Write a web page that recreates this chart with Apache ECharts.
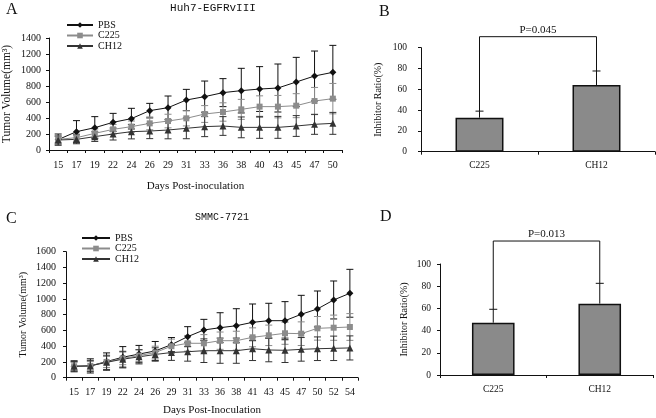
<!DOCTYPE html>
<html>
<head>
<meta charset="utf-8">
<script src="https://cdn.jsdelivr.net/npm/echarts@6/dist/echarts.min.js"></script>
<style>html,body{margin:0;padding:0;background:#fff}#c{width:656px;height:418px}</style>
</head>
<body>
<div id="c"></div>
<script>
// ---------- Data ----------
const catsA = ['15','17','19','22','24','26','29','31','33','36','38','40','43','45','47','50'];
const pbsA = [130,229,279,346,392,492,529,625,667,717,742,762,775,850,925,971];
const pbsAErr = [70,138,138,112,129,91,146,133,195,175,279,280,300,308,312,337];
const c225A = [133,154,208,258,292,333,362,396,450,475,508,542,542,554,612,642];
const c225AErr = [40,45,55,60,70,80,85,95,105,115,125,135,140,150,170,190];
const ch12A = [125,133,167,200,229,237,250,271,292,300,283,283,283,300,321,333];
const ch12AErr = [50,55,60,75,90,95,110,130,125,117,130,137,137,130,125,137];

const catsC = ['15','17','19','22','24','26','29','31','33','36','38','41','43','45','47','50','52','54'];
const pbsC = [145,150,205,260,300,340,420,521,606,635,660,703,724,724,805,873,987,1072];
const pbsCErr = [70,90,110,135,110,120,90,127,135,190,216,233,221,242,241,228,241,304];
const c225C = [145,150,200,245,280,320,400,437,437,470,470,513,538,564,559,627,635,644];
const c225CErr = [50,55,70,80,75,80,90,100,110,110,120,120,130,140,150,150,160,170];
const ch12C = [145,150,195,235,265,295,320,330,343,343,343,368,352,348,360,368,373,378];
const ch12CErr = [60,70,90,100,90,85,100,120,150,160,160,150,150,155,150,150,155,153];

const barCats = ['C225','CH12'];
const ratioB = [32.7, 64.1];
const ratioBErr = [6.3, 13.5];
const pLabelB = 'P=0.045';
const pLevelB = 110.6;
const ratioD = [47.1, 64.3];
const ratioDErr = [12.1, 18.3];
const pLabelD = 'P=0.013';
const pLevelD = 120.7;

const seriesNames = ['PBS','C225','CH12'];
const ticksA = [0,200,400,600,800,1000,1200,1400];
const ticksC = [0,200,400,600,800,1000,1200,1400,1600];
const ticksBar = [0,20,40,60,80,100];

// ---------- Styles ----------
const SERIF = 'Liberation Serif';
const colors = {PBS:'#111111', C225:'#8c8c8c', CH12:'#333333'};
const symbols = {PBS:'diamond', C225:'rect', CH12:'triangle'};
const symSize = {PBS:7, C225:6, CH12:7};

function errData(mean, err){ return mean.map((v,i)=>[i, v, err[i]]); }
function errSeries(xi, yi, mean, err, color){
  return {
    type:'custom', xAxisIndex:xi, yAxisIndex:yi, z:1, silent:true,
    data: errData(mean, err),
    renderItem: function(params, api){
      const x = api.value(0), y = api.value(1), e = api.value(2);
      const top = api.coord([x, y+e]);
      const bot = api.coord([x, y-e]);
      const h = 3.5;
      const st = {stroke: color, lineWidth: 1};
      return {type:'group', children:[
        {type:'line', shape:{x1:top[0],y1:top[1],x2:bot[0],y2:bot[1]}, style:st},
        {type:'line', shape:{x1:top[0]-h,y1:top[1],x2:top[0]+h,y2:top[1]}, style:st},
        {type:'line', shape:{x1:bot[0]-h,y1:bot[1],x2:bot[0]+h,y2:bot[1]}, style:st}
      ]};
    }
  };
}
function upErrSeries(xi, yi, mean, err){
  return {
    type:'custom', xAxisIndex:xi, yAxisIndex:yi, z:3, silent:true,
    data: errData(mean, err),
    renderItem: function(params, api){
      const x = api.value(0), y = api.value(1), e = api.value(2);
      const top = api.coord([x, y+e]);
      const bot = api.coord([x, y]);
      const h = 4;
      const st = {stroke:'#111', lineWidth:1};
      return {type:'group', children:[
        {type:'line', shape:{x1:top[0],y1:top[1],x2:bot[0],y2:bot[1]}, style:st},
        {type:'line', shape:{x1:top[0]-h,y1:top[1],x2:top[0]+h,y2:top[1]}, style:st}
      ]};
    }
  };
}
function bracketSeries(xi, yi, mean, err, level, label){
  return {
    type:'custom', xAxisIndex:xi, yAxisIndex:yi, z:3, silent:true, clip:false,
    data: [[0, mean[0]+err[0], 1, mean[1]+err[1], level]],
    renderItem: function(params, api){
      const a = api.coord([api.value(0), api.value(1)]);
      const b = api.coord([api.value(2), api.value(3)]);
      const ya = api.coord([0, api.value(4)])[1];
      return {type:'group', children:[
        {type:'polyline', shape:{points:[[a[0],a[1]],[a[0],ya],[b[0],ya],[b[0],b[1]]]}, style:{stroke:'#111', lineWidth:1, fill:null}},
        {type:'text', x:(a[0]+b[0])/2, y:ya-1, style:{text:label, fill:'#111', font:'11px "Liberation Serif"', align:'center', verticalAlign:'bottom'}}
      ]};
    }
  };
}
function lineSeries(name, xi, yi, data){
  return {
    name:name, type:'line', xAxisIndex:xi, yAxisIndex:yi, z:2,
    data:data, symbol:symbols[name], symbolSize:symSize[name],
    lineStyle:{color:colors[name], width:1}, itemStyle:{color:colors[name]},
    animation:false
  };
}

const axisLine = {show:true, lineStyle:{color:'#111', width:1}};
const labelStyle = (fs)=>({color:'#111', fontFamily:SERIF, fontSize:fs});
const plain = (v)=>String(v);

const option = {
  animation:false,
  backgroundColor:'#fff',
  title:[
    {text:'A', left:1, top:-3, textStyle:{fontFamily:SERIF, fontSize:16, fontWeight:'normal', color:'#111'}},
    {text:'B', left:374, top:-1, textStyle:{fontFamily:SERIF, fontSize:16, fontWeight:'normal', color:'#111'}},
    {text:'C', left:1, top:206, textStyle:{fontFamily:SERIF, fontSize:16, fontWeight:'normal', color:'#111'}},
    {text:'D', left:375, top:204, textStyle:{fontFamily:SERIF, fontSize:16, fontWeight:'normal', color:'#111'}},
    {text:'Huh7-EGFRvIII', left:208, top:-2, textAlign:'center', textStyle:{fontFamily:'Liberation Mono', fontSize:11, fontWeight:'normal', color:'#111'}},
    {text:'SMMC-7721', left:217, top:207, textAlign:'center', textStyle:{fontFamily:'Liberation Mono', fontSize:10, fontWeight:'normal', color:'#111'}}
  ],
  legend:[
    {data:seriesNames, orient:'vertical', left:66, top:20, itemWidth:26, itemHeight:7, itemGap:0.5,
     textStyle:labelStyle(10), padding:0},
    {data:seriesNames, orient:'vertical', left:81, top:233, itemWidth:28, itemHeight:7, itemGap:0.5,
     textStyle:labelStyle(10), padding:0}
  ],
  grid:[
    {left:48, top:38, width:294, height:112},
    {left:66, top:251.7, width:292, height:126},
    {left:421, top:47.7, width:234, height:104},
    {left:440, top:264, width:213, height:111}
  ],
  xAxis:[
    {type:'category', gridIndex:0, data:catsA, boundaryGap:true, axisLine:axisLine,
     axisTick:{show:true, length:3, lineStyle:{color:'#111'}}, axisLabel:Object.assign({margin:10, interval:0}, labelStyle(10)),
     name:'Days Post-inoculation', nameLocation:'middle', nameGap:31, nameTextStyle:labelStyle(11)},
    {type:'category', gridIndex:1, data:catsC, boundaryGap:true, axisLine:axisLine,
     axisTick:{show:true, length:3, lineStyle:{color:'#111'}}, axisLabel:Object.assign({margin:10, interval:0}, labelStyle(10)),
     name:'Days Post-Inoculation', nameLocation:'middle', nameGap:27, nameTextStyle:labelStyle(11)},
    {type:'category', gridIndex:2, data:barCats, boundaryGap:true, axisLine:axisLine,
     axisTick:{show:true, length:3, lineStyle:{color:'#111'}}, axisLabel:Object.assign({margin:9}, labelStyle(9.5))},
    {type:'category', gridIndex:3, data:barCats, boundaryGap:true, axisLine:axisLine,
     axisTick:{show:true, length:3, lineStyle:{color:'#111'}}, axisLabel:Object.assign({margin:9}, labelStyle(9.5))}
  ],
  yAxis:[
    {type:'value', gridIndex:0, min:ticksA[0], max:ticksA[ticksA.length-1], interval:200, splitLine:{show:false},
     axisLine:axisLine, axisTick:{show:true, length:3, lineStyle:{color:'#111'}}, axisLabel:Object.assign({margin:8, formatter:plain}, labelStyle(10)),
     name:'Tumor Volume(mm³)', nameLocation:'middle', nameGap:36, nameTextStyle:labelStyle(11.5)},
    {type:'value', gridIndex:1, min:ticksC[0], max:ticksC[ticksC.length-1], interval:200, splitLine:{show:false},
     axisLine:axisLine, axisTick:{show:true, length:3, lineStyle:{color:'#111'}}, axisLabel:Object.assign({margin:10, formatter:plain}, labelStyle(10)),
     name:'Tumor Volume(mm³)', nameLocation:'middle', nameGap:38, nameTextStyle:labelStyle(10)},
    {type:'value', gridIndex:2, min:ticksBar[0], max:ticksBar[ticksBar.length-1], interval:20, splitLine:{show:false},
     axisLine:axisLine, axisTick:{show:true, length:3, lineStyle:{color:'#111'}}, axisLabel:Object.assign({margin:14, formatter:plain}, labelStyle(9.5)),
     name:'Inhibitor Ratio(%)', nameLocation:'middle', nameGap:38, nameTextStyle:labelStyle(10)},
    {type:'value', gridIndex:3, min:ticksBar[0], max:ticksBar[ticksBar.length-1], interval:20, splitLine:{show:false},
     axisLine:axisLine, axisTick:{show:true, length:3, lineStyle:{color:'#111'}}, axisLabel:Object.assign({margin:9, formatter:plain}, labelStyle(9.5)),
     name:'Inhibitor Ratio(%)', nameLocation:'middle', nameGap:31, nameTextStyle:labelStyle(10)}
  ],
  series:[
    errSeries(0,0,pbsA,pbsAErr,colors.PBS),
    errSeries(0,0,c225A,c225AErr,colors.C225),
    errSeries(0,0,ch12A,ch12AErr,colors.CH12),
    lineSeries('PBS',0,0,pbsA),
    lineSeries('C225',0,0,c225A),
    lineSeries('CH12',0,0,ch12A),
    errSeries(1,1,pbsC,pbsCErr,colors.PBS),
    errSeries(1,1,c225C,c225CErr,colors.C225),
    errSeries(1,1,ch12C,ch12CErr,colors.CH12),
    lineSeries('PBS',1,1,pbsC),
    lineSeries('C225',1,1,c225C),
    lineSeries('CH12',1,1,ch12C),
    {name:'ratioB', type:'bar', xAxisIndex:2, yAxisIndex:2, data:ratioB, barWidth:'41%',
     itemStyle:{color:'#8a8a8a', borderColor:'#111', borderWidth:1.5}},
    upErrSeries(2,2,ratioB,ratioBErr),
    bracketSeries(2,2,ratioB,ratioBErr,pLevelB,pLabelB),
    {name:'ratioD', type:'bar', xAxisIndex:3, yAxisIndex:3, data:ratioD, barWidth:'40%',
     itemStyle:{color:'#8a8a8a', borderColor:'#111', borderWidth:1.5}},
    upErrSeries(3,3,ratioD,ratioDErr),
    bracketSeries(3,3,ratioD,ratioDErr,pLevelD,pLabelD)
  ]
};
const chart = echarts.init(document.getElementById('c'), null, {renderer:'canvas'});
chart.setOption(option);
</script>
</body>
</html>
